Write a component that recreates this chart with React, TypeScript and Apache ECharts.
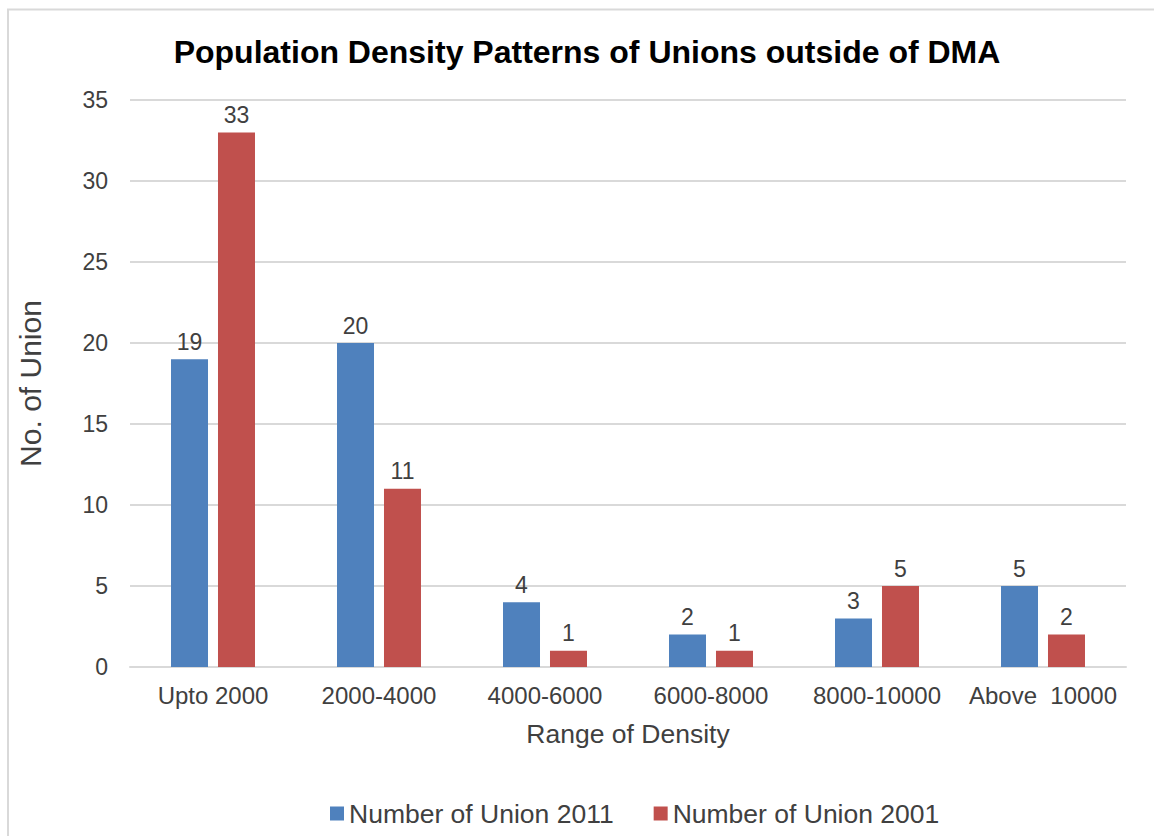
import React, { useEffect, useRef } from "react";
import * as echarts from "echarts";

const categories = ["Upto 2000", "2000-4000", "4000-6000", "6000-8000", "8000-10000", "Above  10000"];
const union2011 = [19, 20, 4, 2, 3, 5];
const union2001 = [33, 11, 1, 1, 5, 2];
const seriesNames = ["Number of Union 2011", "Number of Union 2001"];

const FONT = "'Liberation Sans', Arial, sans-serif";

export default function App() {
  const ref = useRef<HTMLDivElement>(null);
  useEffect(() => {
    document.body.style.margin = "0";
    const chart = echarts.init(ref.current!, null, { renderer: "svg" });
    const label = {
      show: true,
      position: "top",
      distance: 6,
      fontFamily: FONT,
      fontSize: 23,
      color: "#404040",
    };
    chart.setOption({
      animation: false,
      backgroundColor: "#ffffff",
      textStyle: { fontFamily: FONT },
      title: {
        text: "Population Density Patterns of Unions outside of DMA",
        left: 582,
        textAlign: "center",
        top: 31,
        textStyle: { fontFamily: FONT, fontSize: 32, fontWeight: "bold", color: "#000000" },
      },
      graphic: [
        {
          type: "rect",
          shape: { x: 8, y: 9.5, width: 1300, height: 1000 },
          style: { fill: "none", stroke: "#d9d9d9", lineWidth: 2 },
          silent: true,
        },
      ],
      legend: {
        left: 325,
        top: 795,
        itemWidth: 14,
        itemHeight: 14,
        itemGap: 40,
        icon: "rect",
        textStyle: { fontFamily: FONT, fontSize: 26.5, color: "#404040", padding: [0, 0, 0, 0] },
        data: seriesNames,
      },
      grid: { left: 130, right: 28, top: 100, bottom: 169, containLabel: false },
      xAxis: {
        type: "category",
        data: categories,
        axisLine: { lineStyle: { color: "#d9d9d9", width: 2 } },
        axisTick: { show: false },
        axisLabel: { interval: 0, fontFamily: FONT, fontSize: 24, color: "#404040", margin: 16 },
        name: "Range of Density",
        nameLocation: "middle",
        nameGap: 53,
        nameTextStyle: { fontFamily: FONT, fontSize: 26.5, color: "#404040" },
      },
      yAxis: {
        type: "value",
        min: 0,
        max: 35,
        interval: 5,
        axisLine: { show: false },
        axisTick: { show: false },
        splitLine: { lineStyle: { color: "#d9d9d9", width: 2 } },
        axisLabel: { fontFamily: FONT, fontSize: 23, color: "#404040", margin: 22 },
        name: "No. of Union",
        nameLocation: "middle",
        nameGap: 85,
        nameTextStyle: { fontFamily: FONT, fontSize: 30, color: "#404040" },
      },
      series: [
        {
          name: seriesNames[0],
          type: "bar",
          data: union2011,
          barWidth: 37,
          barGap: "27%",
          itemStyle: { color: "#4f81bd" },
          label,
        },
        {
          name: seriesNames[1],
          type: "bar",
          data: union2001,
          barWidth: 37,
          barGap: "27%",
          itemStyle: { color: "#c0504d" },
          label,
        },
      ],
    });
    return () => chart.dispose();
  }, []);
  return <div ref={ref} style={{ width: 1154, height: 836 }} />;
}
